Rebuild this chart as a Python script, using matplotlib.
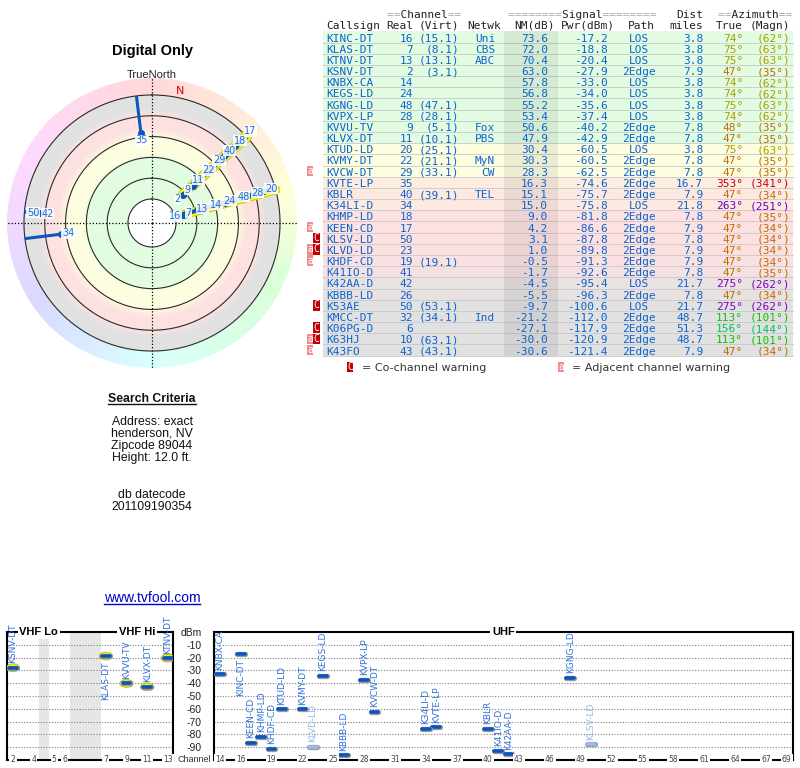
import numpy as np
import matplotlib
matplotlib.use('Agg')
import matplotlib.pyplot as plt
from matplotlib.colors import LinearSegmentedColormap, ListedColormap, Normalize, hsv_to_rgb
from matplotlib.patches import Rectangle, Ellipse
import matplotlib.patheffects as pe

plt.rcParams['font.family'] = ['Liberation Sans', 'DejaVu Sans']

# ---------------- data ----------------
callsigns = ['KINC-DT', 'KLAS-DT', 'KTNV-DT', 'KSNV-DT', 'KNBX-CA', 'KEGS-LD', 'KGNG-LD', 'KVPX-LP',
             'KVVU-TV', 'KLVX-DT', 'KTUD-LD', 'KVMY-DT', 'KVCW-DT', 'KVTE-LP', 'KBLR', 'K34LI-D',
             'KHMP-LD', 'KEEN-CD', 'KLSV-LD', 'KLVD-LD', 'KHDF-CD', 'K41IO-D', 'K42AA-D', 'KBBB-LD',
             'K53AE', 'KMCC-DT', 'K06PG-D', 'K63HJ', 'K43FO']
real_ch = [16, 7, 13, 2, 14, 24, 48, 28, 9, 11, 20, 22, 29, 35, 40, 34, 18, 17, 50, 23, 19, 41, 42, 26,
           50, 32, 6, 10, 43]
virt_ch = ['15.1', '8.1', '13.1', '3.1', '', '', '47.1', '28.1', '5.1', '10.1', '25.1', '21.1', '33.1',
           '', '39.1', '', '', '', '', '', '19.1', '', '', '', '53.1', '34.1', '', '63.1', '43.1']
network = ['Uni', 'CBS', 'ABC', '', '', '', '', '', 'Fox', 'PBS', '', 'MyN', 'CW', '', 'TEL', '', '', '',
           '', '', '', '', '', '', '', 'Ind', '', '', '']
nm_db = [73.6, 72.0, 70.4, 63.0, 57.8, 56.8, 55.2, 53.4, 50.6, 47.9, 30.4, 30.3, 28.3, 16.3, 15.1, 15.0,
         9.0, 4.2, 3.1, 1.0, -0.5, -1.7, -4.5, -5.5, -9.7, -21.2, -27.1, -30.0, -30.6]
pwr_dbm = [-17.2, -18.8, -20.4, -27.9, -33.0, -34.0, -35.6, -37.4, -40.2, -42.9, -60.5, -60.5, -62.5,
           -74.6, -75.7, -75.8, -81.8, -86.6, -87.8, -89.8, -91.3, -92.6, -95.4, -96.3, -100.6, -112.0,
           -117.9, -120.9, -121.4]
path_type = ['LOS', 'LOS', 'LOS', '2Edge', 'LOS', 'LOS', 'LOS', 'LOS', '2Edge', '2Edge', 'LOS', '2Edge',
             '2Edge', '2Edge', '2Edge', 'LOS', '2Edge', '2Edge', '2Edge', '2Edge', '2Edge', '2Edge', 'LOS',
             '2Edge', 'LOS', '2Edge', '2Edge', '2Edge', '2Edge']
dist_mi = [3.8, 3.8, 3.8, 7.9, 3.8, 3.8, 3.8, 3.8, 7.8, 7.8, 3.8, 7.8, 7.8, 16.7, 7.9, 21.8, 7.8, 7.9, 7.8,
           7.9, 7.9, 7.8, 21.7, 7.8, 21.7, 48.7, 51.3, 48.7, 7.9]
az_true = [74, 75, 75, 47, 74, 74, 75, 74, 48, 47, 75, 47, 47, 353, 47, 263, 47, 47, 47, 47, 47, 47, 275,
           47, 275, 113, 156, 113, 47]
az_magn = [62, 63, 63, 35, 62, 62, 63, 62, 35, 35, 63, 35, 35, 341, 34, 251, 35, 34, 34, 34, 34, 35, 262,
           34, 262, 101, 144, 101, 34]
warnings = ['', '', '', '', '', '', '', '', '', '', '', '', 'a', '', '', '', '', 'a', 'C', 'aC', 'a', '',
            '', '', 'C', '', 'C', 'aC', 'a']

search_lines = ['Address: exact', 'henderson, NV', 'Zipcode 89044', 'Height: 12.0 ft.']
datecode_lines = ['db datecode', '201109190354']

vhf_ticks = [2, 4, 5, 6, 7, 9, 11, 13]
uhf_ticks = [14, 16, 19, 22, 25, 28, 31, 34, 37, 40, 43, 46, 49, 52, 55, 58, 61, 64, 67, 69]
dbm_ticks = [0, -10, -20, -30, -40, -50, -60, -70, -80, -90]
dbm_labels = ['dBm', '-10', '-20', '-30', '-40', '-50', '-60', '-70', '-80', '-90']
polar_rings = [80, 60, 40, 20, 0, -20]

n = len(callsigns)

# ---------------- styles ----------------
W, H = 800, 768
BLUE_TXT = '#0b63cf'
BAR_BLUE = '#0a55bf'
FADED = '#9bbce6'
SPEC_LBL = '#2f72d8'
MONO = 'DejaVu Sans Mono'
SANS = ['Liberation Sans', 'DejaVu Sans']

BAND_STOPS = [(-20, '#e1e1e1'), (-7, '#e1e1e1'), (0, '#fde1e1'), (12, '#fde1e1'), (22, '#fdfddf'),
              (36, '#fdfddf'), (43, '#e1fce1'), (80, '#e1fce1')]
band_norm = Normalize(-20, 80)
band_cmap = LinearSegmentedColormap.from_list('band', [((v + 20) / 100.0, c) for v, c in BAND_STOPS])


def band_color(v):
    return band_cmap(band_norm(np.clip(v, -20, 80)))


HUE_AZ = [0, 47, 75, 113, 156, 263, 275, 353, 360]
HUE_H = [0, 33, 57, 115, 150, 272, 280, 355, 360]


def az_hue(a):
    return float(np.interp(a % 360, HUE_AZ, HUE_H)) / 360.0


def az_text_color(a):
    h = az_hue(a)
    v = 0.66 if 0.12 < h < 0.2 else 0.76
    return hsv_to_rgb((h, 1.0, v))


def az_ring_color(a):
    c = hsv_to_rgb((az_hue(a), 1.0, 1.0))
    return tuple(1 - 0.15 * (1 - c))


fig = plt.figure(figsize=(W / 100, H / 100), dpi=100)
oax = fig.add_axes([0, 0, 1, 1])
oax.set_xlim(0, W)
oax.set_ylim(H, 0)
oax.axis('off')

# ---------------- titles / search criteria ----------------
oax.text(152, 51, 'Digital Only', ha='center', va='center', fontsize=10.5, fontweight='bold', family=SANS)
oax.text(152, 74.5, 'TrueNorth', ha='center', va='center', fontsize=8, family=SANS, color='#222222')

t_sc = oax.text(152, 402, 'Search Criteria', ha='center', va='baseline', fontsize=8.8, fontweight='bold',
                family=SANS, color='#111111')
for k, s in enumerate(search_lines):
    oax.text(152, 425 + 12 * k, s, ha='center', va='baseline', fontsize=8.8, family=SANS, color='#111111')
for k, s in enumerate(datecode_lines):
    oax.text(152, 498 + 12 * k, s, ha='center', va='baseline', fontsize=8.8, family=SANS, color='#111111')
t_url = oax.text(152, 602, 'www.tvfool.com', ha='center', va='baseline', fontsize=10, family=SANS,
                 color='#0000cc')

# ---------------- polar plot ----------------
R_CENTER = 103.1
R_EDGE = -36.3
pax = fig.add_axes([7 / W, 1 - 368 / H, 290 / W, 290 / H], projection='polar')
pax.set_theta_zero_location('N')
pax.set_theta_direction(-1)

th_edges = np.linspace(0, 2 * np.pi, 361)
band_r = np.linspace(80, -20, 201)
band_c = np.tile((0.5 * (band_r[:-1] + band_r[1:]))[:, None], (1, 360))
pax.pcolormesh(th_edges, band_r, band_c, cmap=band_cmap, norm=band_norm, shading='flat',
               antialiased=False, linewidth=0, zorder=0.5)
ring_cols = [az_ring_color(a + 0.5) for a in range(360)]
pax.pcolormesh(th_edges, np.array([-20, R_EDGE]), np.arange(360).reshape(1, -1),
               cmap=ListedColormap(ring_cols), norm=Normalize(-0.5, 359.5), shading='flat',
               antialiased=False, linewidth=0, zorder=0.5)
circ_th = np.linspace(0, 2 * np.pi, 400)
for v in polar_rings:
    pax.plot(circ_th, np.full_like(circ_th, v), color='#2a2a2a', lw=0.8, zorder=2)

pax.set_xticks(np.deg2rad([0, 90, 180, 270]))
pax.set_xticklabels([])
pax.set_yticks([])
pax.grid(True, axis='x', color='black', linestyle=(0, (1, 1.6)), linewidth=0.9)
pax.spines['polar'].set_visible(False)

decl = az_true[0] - az_magn[0]
pax.text(np.deg2rad(decl), -26.5, 'N', color='#e00000', fontsize=8, ha='center', va='center',
         family='DejaVu Sans', zorder=3)

shown = [i for i in range(n) if nm_db[i] > -20]
for i in shown:
    th = np.deg2rad(az_true[i])
    if real_ch[i] <= 13:
        pax.plot([th, th], [nm_db[i], -20], color='#ffff00', lw=5.2, solid_capstyle='round', zorder=3,
                 path_effects=[pe.Stroke(linewidth=6.6, foreground='#c9c93a'), pe.Normal()])
for i in shown:
    th = np.deg2rad(az_true[i])
    pax.plot([th, th], [nm_db[i], -20], color=BAR_BLUE, lw=2.2, solid_capstyle='butt', zorder=4)
    pax.plot([th], [nm_db[i]], 'o', ms=4, color=BAR_BLUE, zorder=4)

LABEL_IN = 6.7
LABEL_STEP = 13.75
order = sorted(shown, key=lambda i: -nm_db[i])
groups = []
for i in order:
    for g in groups:
        if abs(az_true[g[0]] - az_true[i]) <= 3:
            g.append(i)
            break
    else:
        groups.append([i])
for g in groups:
    th = np.deg2rad(az_true[g[0]])
    prev = None
    for i in g:
        v = nm_db[i] + LABEL_IN
        if prev is not None:
            v = min(v, prev - LABEL_STEP)
        prev = v
        if v < R_EDGE + 1:
            continue
        pax.text(th, v, str(real_ch[i]), ha='center', va='center', fontsize=7, color='#1f6fd6',
                 family='DejaVu Sans', zorder=7,
                 bbox=dict(boxstyle='square,pad=0.06', fc='white', ec='none', alpha=0.88))
pax.set_ylim(R_CENTER, R_EDGE)

# ---------------- table ----------------
ROW0 = 37.0
ROWH = 11.18
TX0, TX1 = 323, 793
FS = 8
BASE = 4.5   # baseline offset below row centre
for i in range(n):
    yc = ROW0 + i * ROWH
    oax.add_patch(Rectangle((TX0, yc - ROWH / 2), TX1 - TX0, ROWH, fc=band_color(nm_db[i]), ec='none', zorder=1))
    oax.plot([TX0, TX1], [yc + ROWH / 2] * 2, color='#c9c9c9', lw=0.6, zorder=2)
oax.add_patch(Rectangle((504, ROW0 - ROWH / 2), 54, n * ROWH, fc='black', alpha=0.065, ec='none', zorder=2))

hdr = '#222222'
eq = '#a8a8a8'
hk = dict(family=MONO, fontsize=FS, va='baseline', zorder=3)
Y1, Y2 = 18.5, 28.8
oax.text(387, Y1, '==       ==', color=eq, ha='left', **hk)
oax.text(387, Y1, '  Channel  ', color=hdr, ha='left', **hk)
oax.text(508, Y1, '========      ========', color=eq, ha='left', **hk)
oax.text(508, Y1, '        Signal        ', color=hdr, ha='left', **hk)
oax.text(703, Y1, 'Dist', color=hdr, ha='right', **hk)
oax.text(718, Y1, '==       ==', color=eq, ha='left', **hk)
oax.text(718, Y1, '  Azimuth  ', color=hdr, ha='left', **hk)
for s, x, ha in [('Callsign', 326, 'left'), ('Real', 413, 'right'), ('(Virt)', 459, 'right'),
                 ('Netwk', 501, 'right'), ('NM(dB)', 555, 'right'), ('Pwr(dBm)', 615, 'right'),
                 ('Path', 655, 'right'), ('miles', 703, 'right'), ('True', 743, 'right'),
                 ('(Magn)', 790, 'right')]:
    oax.text(x, Y2, s, color=hdr, ha=ha, **hk)

WARN_STYLE = {'a': ('#f28c8c', 310.0), 'C': ('#c00000', 316.5)}


def warn_box(ch, xc, yc):
    col = WARN_STYLE[ch][0]
    oax.add_patch(Rectangle((xc - 3.2, yc - 5.2), 6.4, 10.4, fc=col, ec='none', zorder=3))
    oax.text(xc, yc + 3.0, ch, family=MONO, fontsize=7, color='white', ha='center', va='baseline', zorder=4)


for i in range(n):
    yc = ROW0 + i * ROWH
    yb = yc + BASE
    kw = dict(family=MONO, fontsize=FS, va='baseline', zorder=3)
    oax.text(326, yb, callsigns[i], color=BLUE_TXT, ha='left', **kw)
    oax.text(413, yb, str(real_ch[i]), color=BLUE_TXT, ha='right', **kw)
    if virt_ch[i]:
        oax.text(459, yb, '(' + virt_ch[i] + ')', color=BLUE_TXT, ha='right', **kw)
    if network[i]:
        oax.text(495, yb, network[i], color=BLUE_TXT, ha='right', **kw)
    oax.text(548, yb, f'{nm_db[i]:.1f}', color=BLUE_TXT, ha='right', **kw)
    oax.text(608, yb, f'{pwr_dbm[i]:.1f}', color=BLUE_TXT, ha='right', **kw)
    oax.text(639, yb, path_type[i], color=BLUE_TXT, ha='center', **kw)
    oax.text(703, yb, f'{dist_mi[i]:.1f}', color=BLUE_TXT, ha='right', **kw)
    ac = az_text_color(az_true[i])
    oax.text(743, yb, f'{az_true[i]}\u00b0', color=ac, ha='right', **kw)
    oax.text(790, yb, f'({az_magn[i]}\u00b0)', color=ac, ha='right', **kw)
    for ch in warnings[i]:
        warn_box(ch, WARN_STYLE[ch][1], yc)

LEG_Y = 367
warn_box('C', 350, LEG_Y)
oax.text(362, LEG_Y + 4.2, '= Co-channel warning', family='DejaVu Sans', fontsize=8, color='#333333',
         ha='left', va='baseline')
warn_box('a', 561, LEG_Y)
oax.text(572, LEG_Y + 4.2, '= Adjacent channel warning', family='DejaVu Sans', fontsize=8, color='#333333',
         ha='left', va='baseline')

# ---------------- spectrum ----------------
Y_TOP, Y_BOT = 632, 760
vax = fig.add_axes([7 / W, 1 - Y_BOT / H, (173 - 7) / W, (Y_BOT - Y_TOP) / H])
uax = fig.add_axes([214 / W, 1 - Y_BOT / H, (793 - 214) / W, (Y_BOT - Y_TOP) / H])
vax.set_xlim(-0.58, 15.5)
uax.set_xlim(13.42, 69.6)


def vhf_slot(ch):
    if ch <= 4:
        return ch - 2
    if ch <= 6:
        return ch - 1
    return ch + 2


for ax in (vax, uax):
    ax.set_ylim(-100, 0)
    ax.set_xticks([])
    for sp in ax.spines.values():
        sp.set_linewidth(1.5)
        sp.set_color('black')
    for v in dbm_ticks[1:]:
        ax.axhline(v, color='#808080', ls=(0, (1, 1.5)), lw=0.8, zorder=1)
vax.set_yticks([])
uax.set_yticks(dbm_ticks)
uax.set_yticklabels(dbm_labels)
uax.tick_params(axis='y', length=0, pad=9, labelsize=7.5, labelcolor='#222222')

vax.axvspan(2.5, 3.5, color='#e6e6e6', zorder=0, lw=0)
vax.axvspan(5.5, 8.5, color='#e6e6e6', zorder=0, lw=0)

tick_kw = dict(ha='center', va='center', fontsize=5.5, color='#444444', family='DejaVu Sans', zorder=6,
               bbox=dict(fc='white', ec='none', pad=0.8))
for ch in vhf_ticks:
    vax.text(vhf_slot(ch), -100, str(ch), **tick_kw)
for ch in uhf_ticks:
    uax.text(ch, -100, str(ch), **tick_kw)

title_kw = dict(ha='center', va='center', fontsize=8, fontweight='bold', family=SANS, zorder=6,
                bbox=dict(fc='white', ec='none', pad=1.2))
vax.text(np.mean([vhf_slot(2), vhf_slot(6)]), 0, 'VHF Lo', **title_kw)
vax.text(np.mean([vhf_slot(7), vhf_slot(13)]), 0, 'VHF Hi', **title_kw)
uax.text(np.mean([14, 69]), 0, 'UHF', **title_kw)
oax.text(194, 759, 'Channel', ha='center', va='center', fontsize=6.5, family=SANS, color='#333333')

for i in range(n):
    if pwr_dbm[i] < -100:
        continue
    vhf = real_ch[i] <= 13
    ax = vax if vhf else uax
    x = vhf_slot(real_ch[i]) if vhf else real_ch[i]
    y = pwr_dbm[i]
    faded = 'C' in warnings[i]
    bcol = FADED if faded else BAR_BLUE
    lcol = '#93b6e6' if faded else SPEC_LBL
    if vhf:
        ax.add_patch(Ellipse((x, y), 1.3, 6.0, fc='#ffff00', ec='#b4b400', lw=0.6, zorder=4))
    ax.plot([x - 0.38, x + 0.38], [y, y], color=bcol, lw=2.6, solid_capstyle='round', zorder=5,
            path_effects=[pe.Stroke(linewidth=3.8, foreground='#9a9a9a'), pe.Normal()])
    if y > -20:
        ax.text(x, y - 4, callsigns[i], rotation=90, ha='center', va='top', fontsize=6.5,
                color=lcol, family='DejaVu Sans', zorder=6)
    else:
        ax.text(x, y + 3.6, callsigns[i], rotation=90, ha='center', va='bottom', fontsize=6.5,
                color=lcol, family='DejaVu Sans', zorder=6)

# ---------------- underlines ----------------
fig.canvas.draw()
r = fig.canvas.get_renderer()
inv = oax.transData.inverted()
for t, col, dy in [(t_sc, '#111111', 2.0), (t_url, '#0000cc', 2.2)]:
    bb = t.get_window_extent(r)
    (x0, _), (x1, _) = inv.transform([[bb.x0, bb.y0], [bb.x1, bb.y0]])
    yy = t.get_position()[1] + dy
    oax.plot([x0, x1], [yy, yy], color=col, lw=1.0)

fig.savefig('out.png', dpi=100)
